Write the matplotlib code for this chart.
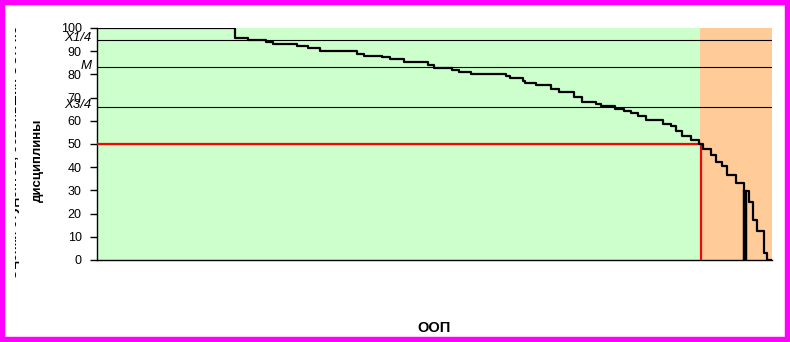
import matplotlib
matplotlib.use("Agg")
import matplotlib.pyplot as plt
from matplotlib.patches import Rectangle
from matplotlib.transforms import Bbox, TransformedBbox

plt.rcParams['font.family'] = ['Liberation Sans', 'DejaVu Sans']

# Share of students (%) where each step starts, and the score on that step
step_x = [0, 20.4, 22.4, 25.0, 26.1, 29.6, 31.3, 33.0, 38.5, 39.6, 42.2, 43.4,
          45.5, 49.0, 49.9, 52.6, 53.6, 55.4, 60.6, 61.2, 63.1, 63.4, 65.0,
          67.3, 68.4, 70.7, 71.9, 73.9, 74.7, 76.7, 78.1, 79.1, 80.1, 81.3,
          83.9, 85.0, 85.8, 86.7, 88.0, 89.2, 89.8, 91.0, 91.7, 92.6, 93.3,
          94.7, 95.9, 96.6, 97.2, 97.8, 98.8, 99.3, 100]
step_y = [100, 95.8, 95.0, 94.1, 93.2, 92.4, 91.5, 90.1, 88.9, 88.1, 87.4, 86.6,
          85.5, 84.0, 82.9, 82.0, 81.2, 80.3, 79.3, 78.4, 77.2, 76.1, 75.3,
          73.6, 72.3, 70.1, 68.2, 67.4, 66.4, 65.1, 64.1, 63.2, 62.2, 60.5,
          58.6, 57.8, 55.6, 53.4, 51.7, 50.0, 47.7, 45.3, 42.4, 40.5, 36.6,
          33.0, 29.9, 25.1, 17.2, 12.5, 3.0, 0, 0]

quartile_labels = ["X1/4", "M", "X3/4"]
quartile_values = [95, 83, 66]
threshold_score = 50
threshold_share = 89.5
green_limit = 89.3
marker_share = 96.0
marker_score = 30
y_ticks = [0, 10, 20, 30, 40, 50, 60, 70, 80, 90, 100]

W, H = 790, 342
fig = plt.figure(figsize=(W / 100, H / 100), dpi=100)
fig.patch.set_facecolor('white')
ax = fig.add_axes([97 / W, 1 - 260 / H, (772 - 97) / W, (260 - 28) / H])
ax.set_xlim(0, 100)
ax.set_ylim(0, 100)

ax.axvspan(0, green_limit, color='#CCFFCC', zorder=0, lw=0)
ax.axvspan(green_limit, 100, color='#FFCC99', zorder=0, lw=0)

for v in quartile_values:
    ax.axhline(v, color='black', lw=0.8, zorder=2)
for lab, v in zip(quartile_labels, quartile_values):
    ax.text(-0.8, v - 0.5, lab, ha='right', va='baseline', fontsize=9.5,
            style='italic', transform=ax.transData, clip_on=False)

ax.plot([0, threshold_share, threshold_share], [threshold_score, threshold_score, 0],
        color='#FF0000', lw=1.6, zorder=3)
ax.plot(step_x, step_y, drawstyle='steps-post', color='black', lw=1.6, zorder=4)
ax.plot([marker_share, marker_share], [0, marker_score], color='black', lw=3.2,
        zorder=4, solid_capstyle='butt')

for s in ['top', 'right']:
    ax.spines[s].set_visible(False)
ax.spines['left'].set_linewidth(1.0)
ax.spines['bottom'].set_linewidth(1.0)
ax.set_xticks([])
ax.set_yticks(y_ticks)
ax.tick_params(axis='y', length=5, width=1, pad=6, labelsize=9)

fig.text(434 / W, 1 - 328 / H, "ООП", ha='center', va='center',
         fontsize=10.5, fontweight='bold')
fig.text(38 / W, 1 - 160 / H, "дисциплины", ha='center', va='center',
         rotation=90, fontsize=9.5, fontweight='bold')
t = fig.text(14.5 / W, 1 - 152 / H, "Оценки студентов, освоивших ООП по",
             ha='center', va='center', rotation=90, fontsize=9.5, fontweight='bold')
t.set_clip_box(TransformedBbox(Bbox([[15 / W, 0], [30 / W, 1]]), fig.transFigure))
t.set_clip_on(True)

fig.patches.append(Rectangle((0, 0), 1, 1, transform=fig.transFigure, fill=False,
                             edgecolor='#FF00FF', linewidth=7.5, zorder=10))

fig.savefig('out.png', dpi=100)
